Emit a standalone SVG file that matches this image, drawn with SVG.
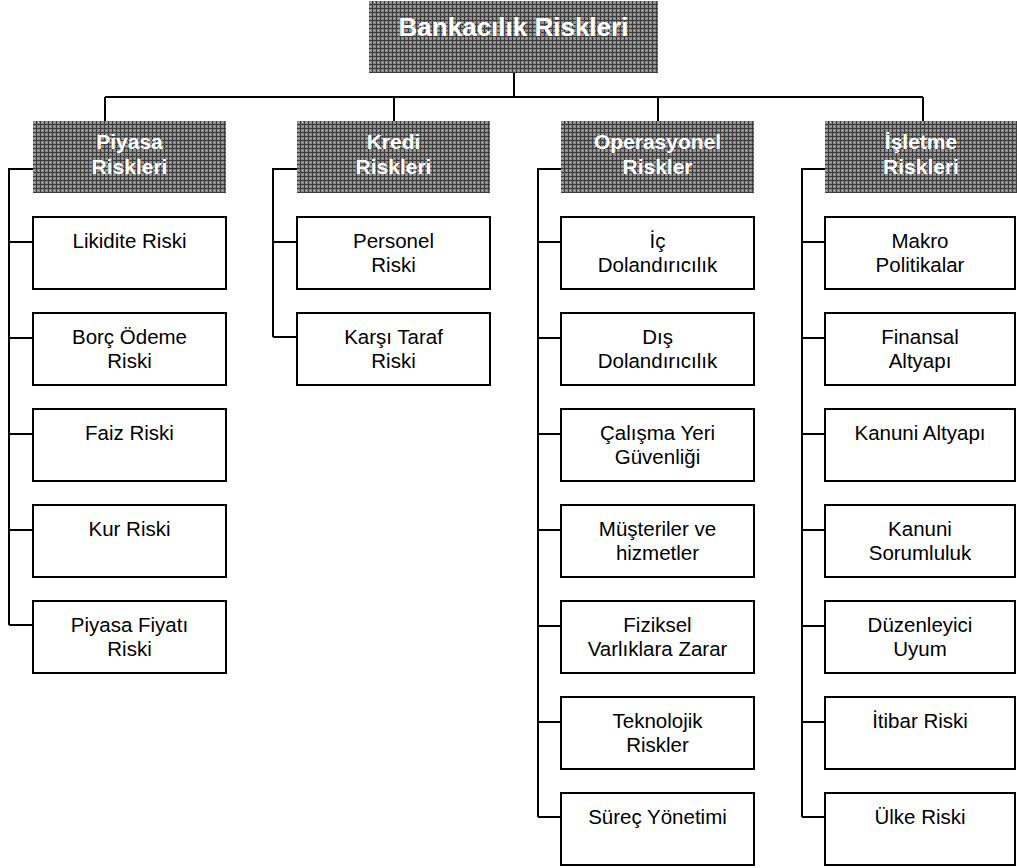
<svg xmlns="http://www.w3.org/2000/svg" width="1017" height="868" viewBox="0 0 1017 868">
  <defs>
    <!-- woven grey fill used by the heading boxes -->
    <pattern id="weave" width="4" height="4" patternUnits="userSpaceOnUse">
      <rect width="4" height="4" fill="#8a8a8a"/>
      <rect x="0" y="0" width="4" height="1" fill="#3c3c3c"/>
      <rect x="0" y="0" width="1" height="4" fill="#3c3c3c"/>
      <rect x="2" y="2" width="1" height="1" fill="#b0b0b0"/>
    </pattern>
  </defs>
  <style>
    .head { fill: url(#weave); }
    .box { fill: #ffffff; stroke: #000000; stroke-width: 2; }
    .title { font-family: "Liberation Sans", Arial, sans-serif; font-weight: bold; font-size: 26px; fill: #ffffff; text-anchor: middle; }
    .htxt { font-family: "Liberation Sans", Arial, sans-serif; font-weight: bold; font-size: 21px; fill: #ffffff; text-anchor: middle; }
    .txt { font-family: "Liberation Sans", Arial, sans-serif; font-size: 20.5px; fill: #000000; text-anchor: middle; }
    .wire { fill: none; stroke: #000000; stroke-width: 2; }
  </style>

  <rect width="1017" height="868" fill="#ffffff"/>

  <!-- connectors -->
  <g id="connectors" class="wire">
    <path d="M514,73 V97 M105,97 H923 M105,97 V121 M394,97 V121 M658,97 V121 M923,97 V121"/>
    <!-- Piyasa column -->
    <path d="M33,169 H9 V625 M9,242 H33 M9,338 H33 M9,434 H33 M9,530 H33 M9,625 H33"/>
    <!-- Kredi column -->
    <path d="M297,169 H273 V337 M273,242 H297 M273,337 H297"/>
    <!-- Operasyonel column -->
    <path d="M561,169 H538 V817 M538,242 H561 M538,338 H561 M538,434 H561 M538,530 H561 M538,626 H561 M538,722 H561 M538,817 H561"/>
    <!-- Isletme column -->
    <path d="M825,169 H802 V817 M802,242 H825 M802,338 H825 M802,434 H825 M802,530 H825 M802,626 H825 M802,722 H825 M802,817 H825"/>
  </g>

  <!-- root -->
  <g id="root">
    <rect class="head" x="369" y="1" width="289" height="72"/>
    <text class="title" x="513.5" y="36">Bankacılık Riskleri</text>
  </g>

  <!-- headings -->
  <g id="piyasa">
    <rect class="head" x="33" y="121" width="193" height="72"/>
    <text class="htxt" x="129.5" y="149">Piyasa</text>
    <text class="htxt" x="129.5" y="174">Riskleri</text>
  </g>
  <g id="kredi">
    <rect class="head" x="297" y="121" width="193" height="72"/>
    <text class="htxt" x="393.5" y="149">Kredi</text>
    <text class="htxt" x="393.5" y="174">Riskleri</text>
  </g>
  <g id="operasyonel">
    <rect class="head" x="561" y="121" width="193" height="72"/>
    <text class="htxt" x="657.5" y="149">Operasyonel</text>
    <text class="htxt" x="657.5" y="174">Riskler</text>
  </g>
  <g id="isletme">
    <rect class="head" x="825" y="121" width="192" height="72"/>
    <text class="htxt" x="921" y="149">İşletme</text>
    <text class="htxt" x="921" y="174">Riskleri</text>
  </g>

  <!-- Piyasa items -->
  <g id="likidite"><rect class="box" x="33" y="217" width="193" height="72"/><text class="txt" x="129.5" y="248">Likidite Riski</text></g>
  <g id="borc"><rect class="box" x="33" y="313" width="193" height="72"/><text class="txt" x="129.5" y="344">Borç Ödeme</text><text class="txt" x="129.5" y="368">Riski</text></g>
  <g id="faiz"><rect class="box" x="33" y="409" width="193" height="72"/><text class="txt" x="129.5" y="440">Faiz Riski</text></g>
  <g id="kur"><rect class="box" x="33" y="505" width="193" height="72"/><text class="txt" x="129.5" y="536">Kur Riski</text></g>
  <g id="fiyat"><rect class="box" x="33" y="601" width="193" height="72"/><text class="txt" x="129.5" y="632">Piyasa Fiyatı</text><text class="txt" x="129.5" y="656">Riski</text></g>

  <!-- Kredi items -->
  <g id="personel"><rect class="box" x="297" y="217" width="193" height="72"/><text class="txt" x="393.5" y="248">Personel</text><text class="txt" x="393.5" y="272">Riski</text></g>
  <g id="karsi"><rect class="box" x="297" y="313" width="193" height="72"/><text class="txt" x="393.5" y="344">Karşı Taraf</text><text class="txt" x="393.5" y="368">Riski</text></g>

  <!-- Operasyonel items -->
  <g id="ic"><rect class="box" x="561" y="217" width="193" height="72"/><text class="txt" x="657.5" y="248">İç</text><text class="txt" x="657.5" y="272">Dolandırıcılık</text></g>
  <g id="dis"><rect class="box" x="561" y="313" width="193" height="72"/><text class="txt" x="657.5" y="344">Dış</text><text class="txt" x="657.5" y="368">Dolandırıcılık</text></g>
  <g id="calisma"><rect class="box" x="561" y="409" width="193" height="72"/><text class="txt" x="657.5" y="440">Çalışma Yeri</text><text class="txt" x="657.5" y="464">Güvenliği</text></g>
  <g id="musteri"><rect class="box" x="561" y="505" width="193" height="72"/><text class="txt" x="657.5" y="536">Müşteriler ve</text><text class="txt" x="657.5" y="560">hizmetler</text></g>
  <g id="fiziksel"><rect class="box" x="561" y="601" width="193" height="72"/><text class="txt" x="657.5" y="632">Fiziksel</text><text class="txt" x="657.5" y="656">Varlıklara Zarar</text></g>
  <g id="teknoloji"><rect class="box" x="561" y="697" width="193" height="72"/><text class="txt" x="657.5" y="728">Teknolojik</text><text class="txt" x="657.5" y="752">Riskler</text></g>
  <g id="surec"><rect class="box" x="561" y="793" width="193" height="72"/><text class="txt" x="657.5" y="824">Süreç Yönetimi</text></g>

  <!-- Isletme items -->
  <g id="makro"><rect class="box" x="825" y="217" width="190" height="72"/><text class="txt" x="920" y="248">Makro</text><text class="txt" x="920" y="272">Politikalar</text></g>
  <g id="finansal"><rect class="box" x="825" y="313" width="190" height="72"/><text class="txt" x="920" y="344">Finansal</text><text class="txt" x="920" y="368">Altyapı</text></g>
  <g id="kanuni-altyapi"><rect class="box" x="825" y="409" width="190" height="72"/><text class="txt" x="920" y="440">Kanuni Altyapı</text></g>
  <g id="kanuni-sorumluluk"><rect class="box" x="825" y="505" width="190" height="72"/><text class="txt" x="920" y="536">Kanuni</text><text class="txt" x="920" y="560">Sorumluluk</text></g>
  <g id="duzenleyici"><rect class="box" x="825" y="601" width="190" height="72"/><text class="txt" x="920" y="632">Düzenleyici</text><text class="txt" x="920" y="656">Uyum</text></g>
  <g id="itibar"><rect class="box" x="825" y="697" width="190" height="72"/><text class="txt" x="920" y="728">İtibar Riski</text></g>
  <g id="ulke"><rect class="box" x="825" y="793" width="190" height="72"/><text class="txt" x="920" y="824">Ülke Riski</text></g>
</svg>
